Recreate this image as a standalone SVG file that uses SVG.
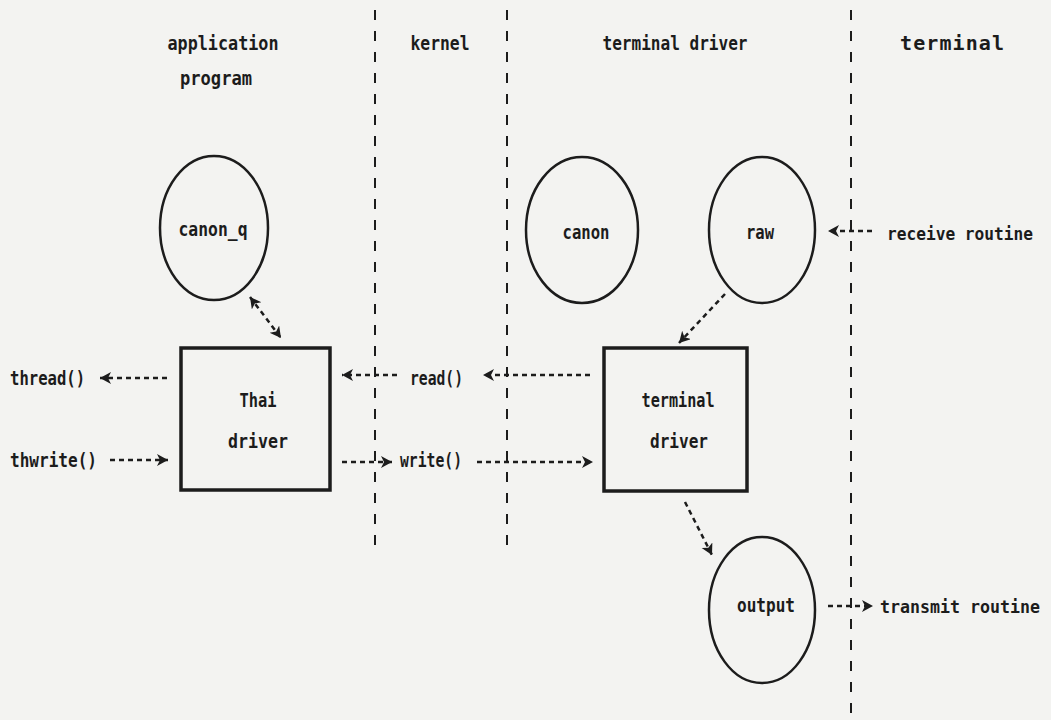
<svg xmlns="http://www.w3.org/2000/svg" width="1051" height="720" viewBox="0 0 1051 720">
  <style>
    .lbl { font-family: "DejaVu Sans Mono", "Liberation Mono", monospace; font-size: 20px; font-weight: bold; fill: #1c1c1c; }
    .sm { font-size: 17px; }
    .mid { text-anchor: middle; }
    .lane { stroke: #1c1c1c; stroke-width: 2; stroke-dasharray: 10 11; fill: none; }
    .flow { stroke: #1c1c1c; stroke-width: 2.5; stroke-dasharray: 5 4; fill: none; marker-end: url(#head); }
    .both { marker-start: url(#head); }
    .oval { fill: none; stroke: #1c1c1c; stroke-width: 2.5; }
    .box { fill: none; stroke: #1c1c1c; stroke-width: 3.5; }
  </style>
  <defs>
    <marker id="head" markerUnits="userSpaceOnUse" markerWidth="13" markerHeight="13" refX="11" refY="6" orient="auto-start-reverse">
      <path d="M0,0 L11,6 L0,12 L3,6 Z" fill="#1c1c1c"/>
    </marker>
  </defs>

  <rect width="1051" height="720" fill="#f3f3f1"/>

  <!-- column separators -->
  <g id="lanes">
    <line class="lane" x1="375" y1="10" x2="375" y2="552"/>
    <line class="lane" x1="507" y1="10" x2="507" y2="552"/>
    <line class="lane" x1="851" y1="10" x2="851" y2="720"/>
  </g>

  <!-- column headings -->
  <g id="headings">
    <text class="lbl mid" x="223" y="50" textLength="111" lengthAdjust="spacingAndGlyphs">application</text>
    <text class="lbl mid" x="216" y="85" textLength="72" lengthAdjust="spacingAndGlyphs">program</text>
    <text class="lbl mid" x="440" y="50" textLength="59" lengthAdjust="spacingAndGlyphs">kernel</text>
    <text class="lbl mid" x="675" y="50" textLength="145" lengthAdjust="spacingAndGlyphs">terminal driver</text>
    <text class="lbl mid" x="952" y="50" textLength="104" lengthAdjust="spacing">terminal</text>
  </g>

  <g id="canon_q">
    <ellipse class="oval" cx="214" cy="228" rx="54" ry="72"/>
    <text class="lbl mid" x="213" y="236" textLength="69" lengthAdjust="spacingAndGlyphs">canon_q</text>
  </g>

  <g id="canon">
    <ellipse class="oval" cx="582" cy="230" rx="56" ry="73"/>
    <text class="lbl mid" x="586" y="239" textLength="47" lengthAdjust="spacingAndGlyphs">canon</text>
  </g>

  <g id="raw">
    <ellipse class="oval" cx="762" cy="230" rx="53" ry="73"/>
    <text class="lbl mid" x="760" y="239" textLength="28" lengthAdjust="spacingAndGlyphs">raw</text>
  </g>

  <g id="thai_driver">
    <rect class="box" x="181" y="348" width="149" height="142"/>
    <text class="lbl mid" x="258" y="407" textLength="37" lengthAdjust="spacingAndGlyphs">Thai</text>
    <text class="lbl mid" x="258" y="448" textLength="60" lengthAdjust="spacingAndGlyphs">driver</text>
  </g>

  <g id="terminal_driver">
    <rect class="box" x="604" y="348" width="143" height="143"/>
    <text class="lbl mid" x="678" y="407" textLength="73" lengthAdjust="spacingAndGlyphs">terminal</text>
    <text class="lbl mid" x="679" y="448" textLength="58" lengthAdjust="spacingAndGlyphs">driver</text>
  </g>

  <g id="output">
    <ellipse class="oval" cx="762" cy="610" rx="53" ry="73"/>
    <text class="lbl mid" x="766" y="612" textLength="58" lengthAdjust="spacingAndGlyphs">output</text>
  </g>

  <!-- call names and terminal routines -->
  <g id="endpoints">
    <text class="lbl" x="10" y="385" textLength="75" lengthAdjust="spacingAndGlyphs">thread()</text>
    <text class="lbl" x="10" y="467" textLength="87" lengthAdjust="spacingAndGlyphs">thwrite()</text>
    <text class="lbl" x="410" y="385" textLength="53" lengthAdjust="spacingAndGlyphs">read()</text>
    <text class="lbl" x="400" y="467" textLength="62" lengthAdjust="spacingAndGlyphs">write()</text>
    <text class="lbl sm" x="887" y="240" textLength="146" lengthAdjust="spacingAndGlyphs">receive routine</text>
    <text class="lbl sm" x="880" y="613" textLength="160" lengthAdjust="spacingAndGlyphs">transmit routine</text>
  </g>

  <g id="connectors">
    <line class="flow" x1="167" y1="378" x2="100" y2="378"/>
    <line class="flow" x1="110" y1="460" x2="168" y2="460"/>
    <line class="flow" x1="397" y1="375" x2="342" y2="375"/>
    <line class="flow" x1="590" y1="375" x2="483" y2="375"/>
    <line class="flow" x1="342" y1="462" x2="392" y2="462"/>
    <line class="flow" x1="477" y1="462" x2="593" y2="462"/>
    <line class="flow both" x1="250" y1="297" x2="281" y2="338"/>
    <line class="flow" x1="725" y1="294" x2="679" y2="343"/>
    <line class="flow" x1="685" y1="502" x2="712" y2="555"/>
    <line class="flow" x1="872" y1="231" x2="828" y2="231"/>
    <line class="flow" x1="828" y1="606" x2="873" y2="606"/>
  </g>
</svg>
